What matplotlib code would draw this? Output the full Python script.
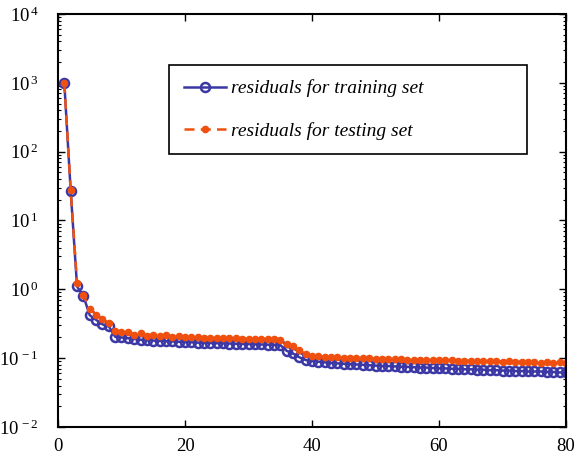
import numpy as np
import matplotlib
matplotlib.use('Agg')
import matplotlib.pyplot as plt
from matplotlib.ticker import FuncFormatter, NullFormatter, FixedLocator

plt.rcParams['font.family'] = 'Liberation Serif'
plt.rcParams['mathtext.fontset'] = 'custom'
plt.rcParams['mathtext.rm'] = 'Liberation Serif'
plt.rcParams['mathtext.it'] = 'Liberation Serif:italic'

epochs = np.arange(1, 81)

train_res = [980, 27, 1.1, 0.8, 0.42, 0.36, 0.31, 0.29, 0.205, 0.2,
             0.195, 0.19, 0.185, 0.182, 0.18, 0.178, 0.176, 0.175, 0.173, 0.171,
             0.17, 0.168, 0.167, 0.166, 0.165, 0.164, 0.163, 0.162, 0.161, 0.16,
             0.159, 0.158, 0.157, 0.156, 0.155, 0.128, 0.117, 0.103, 0.094, 0.091,
             0.089, 0.087, 0.085, 0.084, 0.083, 0.082, 0.081, 0.080, 0.079, 0.078,
             0.077, 0.077, 0.076, 0.075, 0.075, 0.074, 0.073, 0.073, 0.072, 0.071,
             0.071, 0.070, 0.070, 0.069, 0.069, 0.068, 0.068, 0.067, 0.067, 0.066,
             0.066, 0.065, 0.065, 0.064, 0.064, 0.064, 0.063, 0.063, 0.062, 0.062]

test_res = [1000, 27.5, 1.25, 0.82, 0.52, 0.43, 0.37, 0.32, 0.25, 0.24,
            0.24, 0.22, 0.23, 0.21, 0.22, 0.21, 0.215, 0.205, 0.21, 0.205,
            0.2, 0.2, 0.198, 0.197, 0.196, 0.195, 0.194, 0.193, 0.192, 0.191,
            0.19, 0.19, 0.189, 0.188, 0.186, 0.158, 0.15, 0.13, 0.115, 0.108,
            0.107, 0.105, 0.104, 0.103, 0.102, 0.101, 0.1, 0.099, 0.099, 0.098,
            0.097, 0.097, 0.096, 0.096, 0.095, 0.095, 0.094, 0.094, 0.094, 0.093,
            0.093, 0.093, 0.092, 0.092, 0.092, 0.091, 0.091, 0.09, 0.091, 0.089,
            0.09, 0.088, 0.089, 0.087, 0.088, 0.086, 0.088, 0.085, 0.088, 0.085]

y_ticks = [1e-2, 1e-1, 1e0, 1e1, 1e2, 1e3, 1e4]

blue = '#3b38a6'
orange = '#f0500f'

fig = plt.figure(figsize=(5.77, 4.63), dpi=100)
ax = fig.add_axes([0.1005, 0.0778, 0.8805, 0.892])

ax.semilogy(epochs, train_res, '-o', color=blue, lw=1.8, ms=6.5,
            mfc='none', mec=blue, mew=1.8,
            label='residuals for training set')
ax.semilogy(epochs, test_res, '--.', color=orange, lw=1.8, ms=9,
            dashes=(4, 2.5), label='residuals for testing set')

ax.set_xlim(0, 80)
ax.set_ylim(1e-2, 1e4)
ax.set_xticks([0, 20, 40, 60, 80])
ax.yaxis.set_major_locator(FixedLocator(y_ticks))
minors = [m * d for d in y_ticks[:-1] for m in range(2, 10)]
ax.yaxis.set_minor_locator(FixedLocator(minors))
ax.yaxis.set_major_formatter(FuncFormatter(lambda v, p: r'$10^{\,%d}$' % round(np.log10(v))))
ax.yaxis.set_minor_formatter(NullFormatter())
ax.tick_params(which='both', direction='in', top=True, right=True, labelsize=13.5)
ax.tick_params(which='major', length=5, width=1)
ax.tick_params(which='minor', length=2.5, width=0.8)
ax.tick_params(axis='x', pad=8)
ax.tick_params(axis='y', pad=14)
for s in ax.spines.values():
    s.set_linewidth(1.5)

leg = ax.legend(loc='upper left', bbox_to_anchor=(0.2185, 0.654, 0.7045, 0.2225),
                mode='expand', prop={'style': 'italic', 'size': 14},
                fancybox=False, edgecolor='black', framealpha=1,
                handlelength=2.2, borderpad=0.75, labelspacing=1.25,
                handletextpad=0.25, borderaxespad=0)
leg.get_frame().set_linewidth(1.2)

fig.savefig('out.png', dpi=100)
